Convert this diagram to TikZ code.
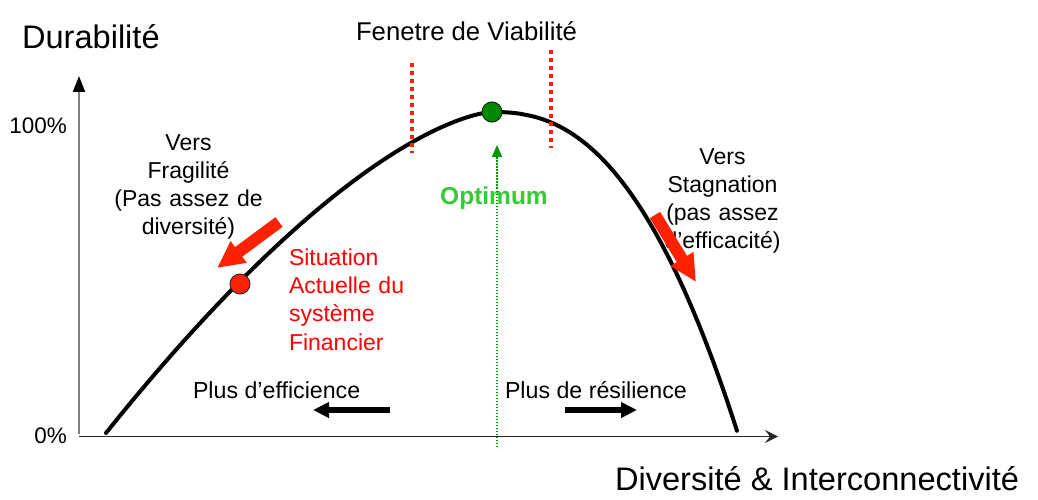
\documentclass[tikz,border=0pt]{standalone}
\usepackage{fontspec}
\setmainfont{Liberation Sans}
\usetikzlibrary{arrows.meta}
\definecolor{arrowred}{RGB}{255,34,0}
\definecolor{optgreen}{RGB}{51,204,51}
\definecolor{dotgreen}{RGB}{0,136,0}
\definecolor{lineGreen}{RGB}{0,150,0}
\definecolor{axisgray}{RGB}{128,128,128}
\definecolor{axisdark}{RGB}{40,40,40}
\begin{document}
\begin{tikzpicture}[x=1pt,y=-1pt,
  every node/.style={inner sep=0pt, outer sep=0pt},
  bigtitle/.style={font=\fontsize{32.6}{38}\selectfont},
  ticklbl/.style={font=\fontsize{22.5}{27}\selectfont},
  lbl/.style={font=\fontsize{23}{28.2}\selectfont},
  dirlbl/.style={font=\fontsize{23.2}{27}\selectfont},
  fatarrow/.style={arrowred, line width=12pt, -{Triangle[width=25pt,length=27pt]}},
  blackarrow/.style={black, line width=6pt, -{Triangle[width=15pt,length=16pt]}},
  windowline/.style={arrowred, line width=4pt, dash pattern=on 4pt off 4pt},
  dotnode/.style={circle, line width=1pt, minimum size=20pt}
]
\useasboundingbox (0,0) rectangle (1038,500);

% axes
\coordinate (O) at (79,436.5);
\coordinate (ybot) at (79,434);
\coordinate (ytop) at (79,76);
\coordinate (xend) at (778,436.5);
\draw[axisgray, line width=2pt, -{Triangle[width=12pt,length=16pt,color=black]}] (ybot) -- (ytop);
\draw[axisdark, line width=1.6pt, -{Stealth[width=13pt,length=13pt,inset=5pt]}] (O) -- (xend);

% texts
\node[bigtitle, anchor=base west] (dur) at (22,49) {Durabilité};
\node[bigtitle, anchor=base west] (div) at (615,490) {Diversité \& Interconnectivité};
\node[font=\fontsize{25.7}{30}\selectfont, anchor=base] (fen) at (466.5,41) {Fenetre de Viabilité};
\node[ticklbl, anchor=base east] (p100) at (67,133) {100\%};
\node[ticklbl, anchor=base east] (p0) at (67,443) {0\%};
\node[lbl, text width=170pt, align=center, anchor=base] (frag) at (188.5,150) {Vers\\Fragilité\\(Pas assez de\\diversité)};
\node[lbl, text width=150pt, align=center, anchor=base] (stag) at (722.5,164) {Vers\\Stagnation\\(pas assez\\d’efficacité)};
\node[lbl, text=red, text width=130pt, align=left, anchor=base west] (sit) at (289,265.5) {Situation\\Actuelle du\\système\\Financier};
\node[font=\bfseries\fontsize{24.5}{29}\selectfont, text=optgreen, anchor=base] (opt) at (494,204) {Optimum};
\node[dirlbl, anchor=base west] (eff) at (193,398.5) {Plus d’efficience};
\node[dirlbl, anchor=base west] (res) at (505,398.5) {Plus de résilience};

% curve
\draw[black, line width=4pt, line cap=round, line join=round]
  plot[domain=1:0, samples=120] ({492-386*\x}, {112+321*\x*sqrt(\x)})
  -- plot[domain=0.001:1, samples=120] ({492+245*\x}, {112+319*pow(\x,2.4)});

% viability window
\coordinate (wl1) at (412,63);
\coordinate (wl2) at (412,153);
\coordinate (wr1) at (551,50);
\coordinate (wr2) at (551,148);
\draw[windowline] (wl1) -- (wl2);
\draw[windowline] (wr1) -- (wr2);

% optimum pointer
\coordinate (gbot) at (497,447);
\coordinate (gtop) at (497,145);
\draw[lineGreen, line width=1.5pt, dash pattern=on 1.5pt off 1.5pt, -{Triangle[width=10pt,length=12pt]}] (gbot) -- (gtop);

% dots
\node[dotnode, fill=dotgreen, draw=black!60!dotgreen] (optdot) at (492,112) {};
\node[dotnode, fill=arrowred, draw=black!80] (curdot) at (240,284) {};

% red direction arrows
\coordinate (fa1) at (279,222);
\coordinate (fa2) at (217,268);
\coordinate (sa1) at (655,215);
\coordinate (sa2) at (696,282);
\draw[fatarrow] (fa1) -- (fa2);
\draw[fatarrow] (sa1) -- (sa2);

% black arrows
\coordinate (ea1) at (390,410);
\coordinate (ea2) at (313,410);
\coordinate (ra1) at (565,410);
\coordinate (ra2) at (637,410);
\draw[blackarrow] (ea1) -- (ea2);
\draw[blackarrow] (ra1) -- (ra2);
\end{tikzpicture}
\end{document}
